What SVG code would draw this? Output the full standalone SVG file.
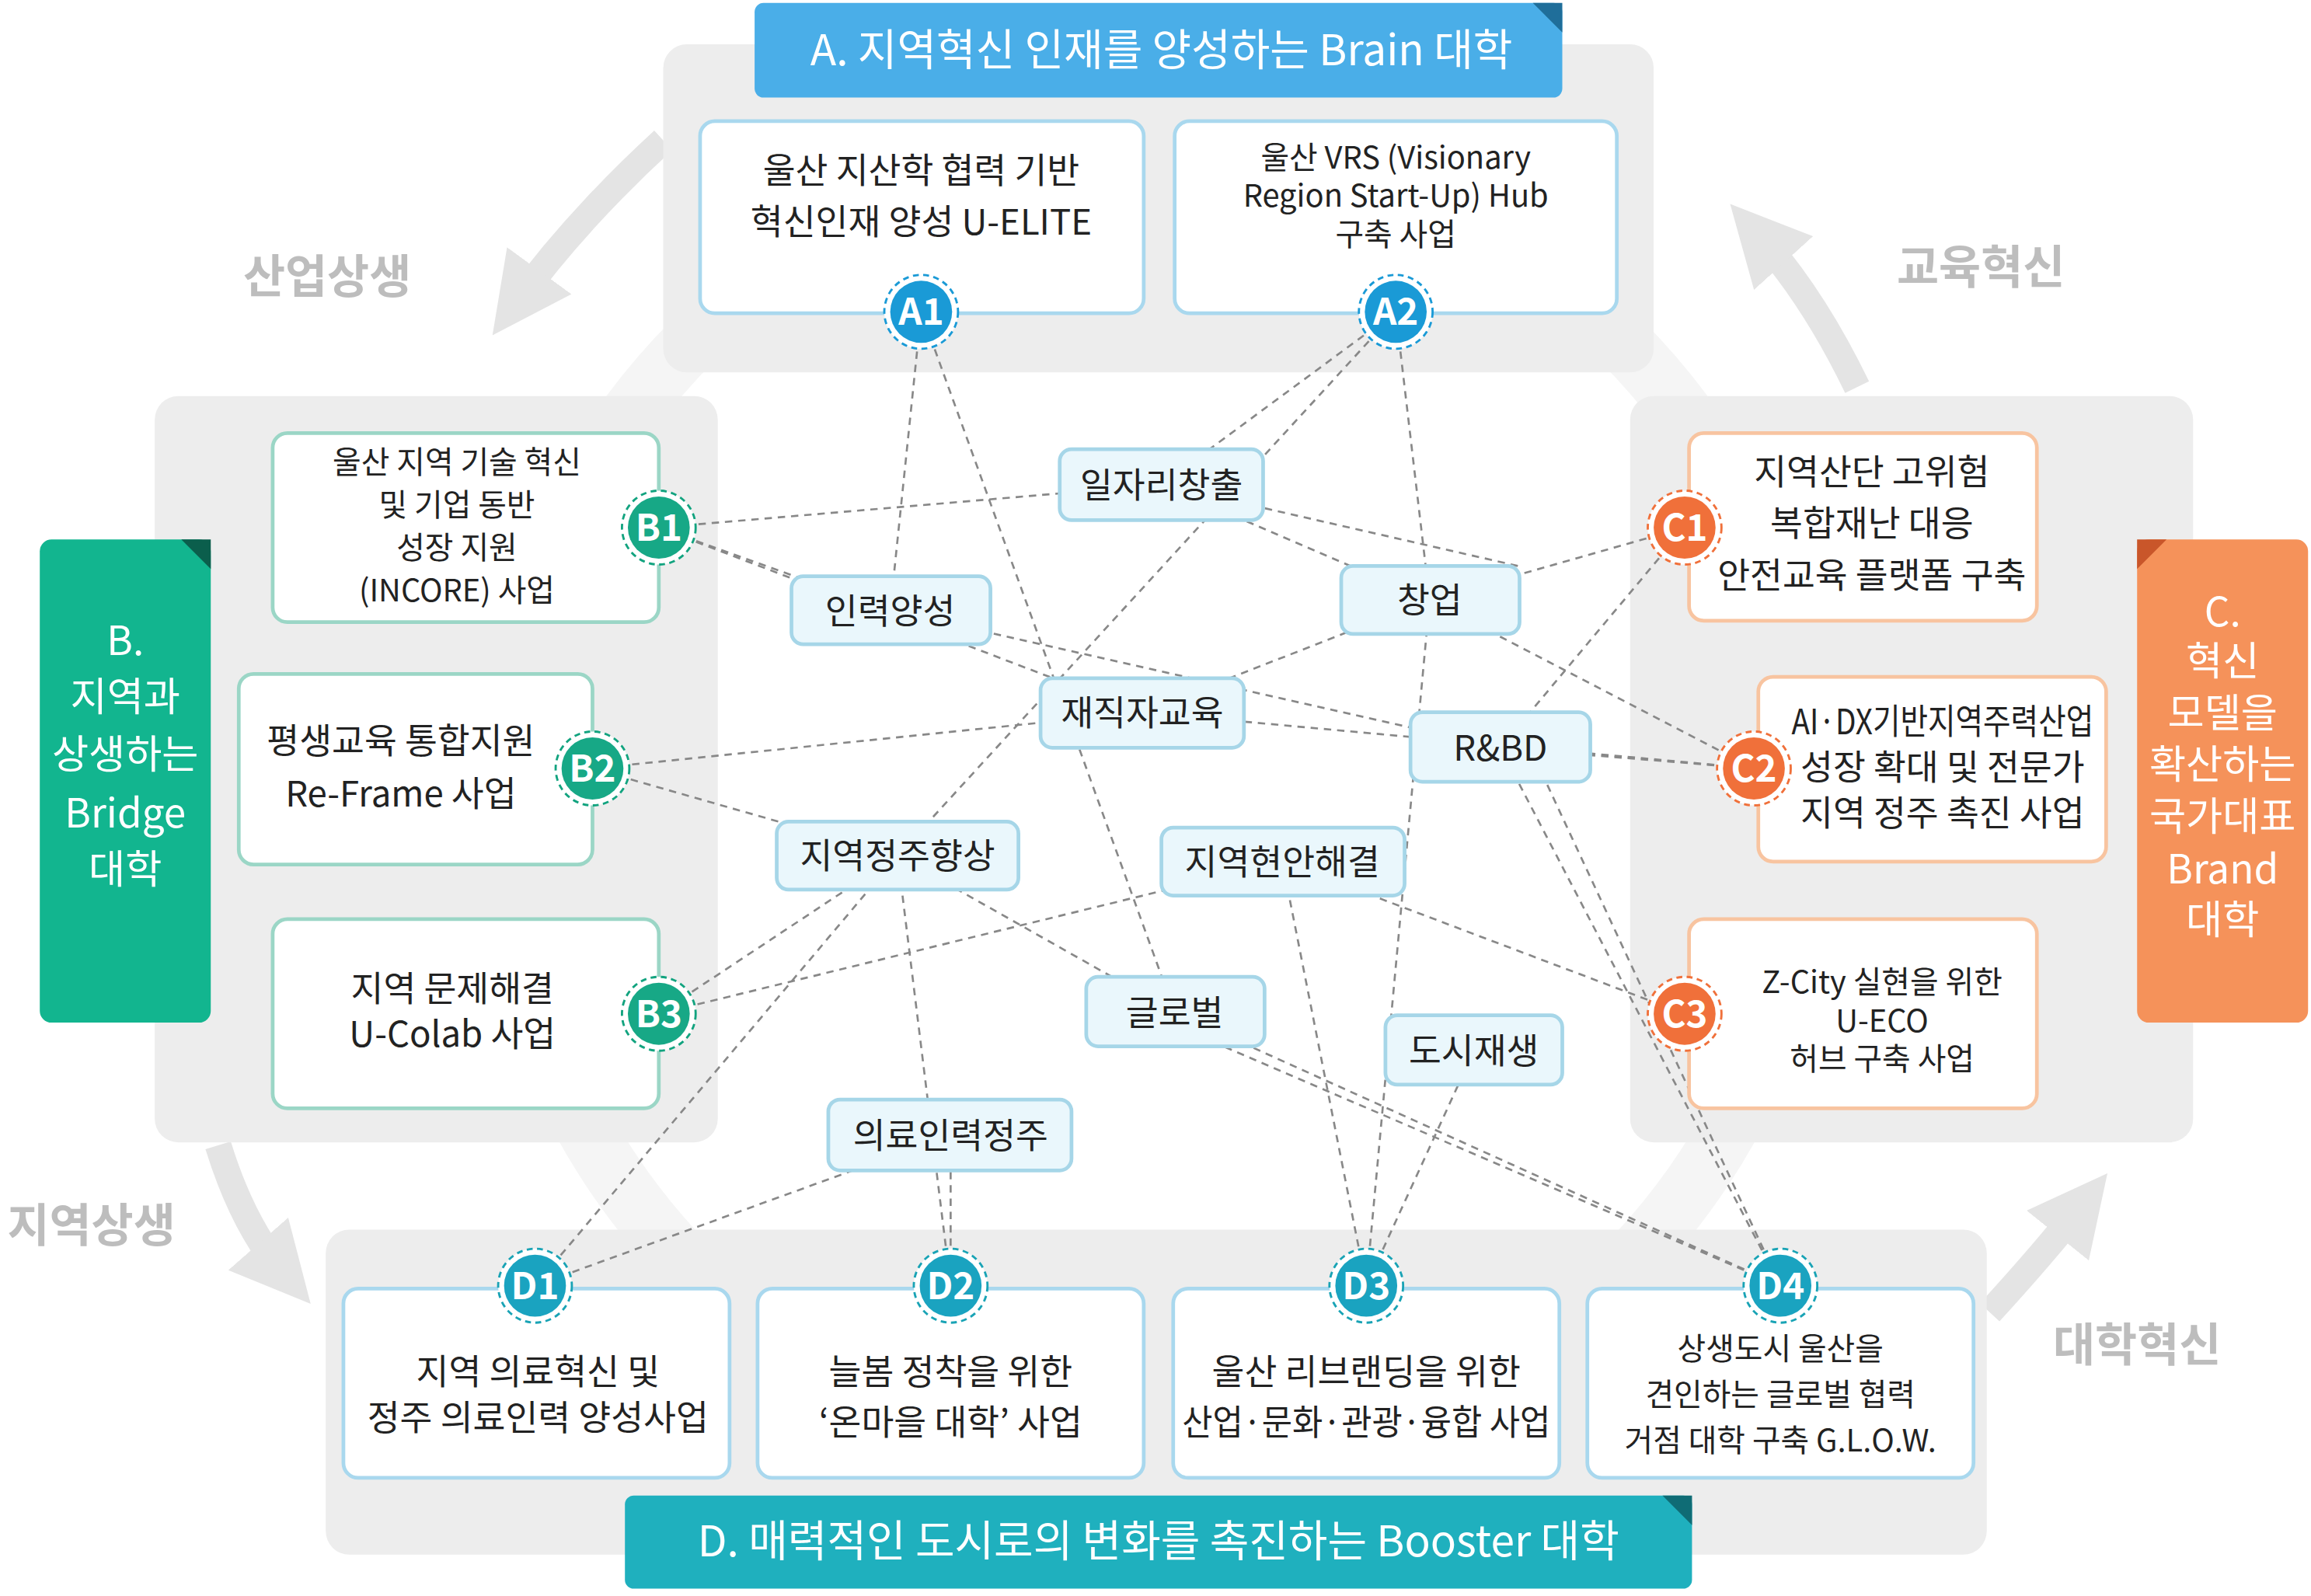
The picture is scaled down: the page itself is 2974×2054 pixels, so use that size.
<svg xmlns="http://www.w3.org/2000/svg" width="2974" height="2054" viewBox="0 0 2974 2054">
<style>
text{font-family:"Noto Sans CJK KR","Noto Sans",sans-serif;text-anchor:middle}
.panel{fill:#ededed}
.nb{fill:#fff;stroke:#a9d8ee;stroke-width:2.5}
.ng{fill:#fff;stroke:#9bd6c6;stroke-width:2.5}
.no{fill:#fff;stroke:#f8c4a0;stroke-width:2.5}
.nt{font-size:24px;fill:#222}
.ns{font-size:21px;fill:#222}
.kw{fill:#eaf7fc;stroke:#a6d6e8;stroke-width:2.5}
.kt{font-size:24px;fill:#222}
.ring{fill:#fff;stroke-width:1.5;stroke-dasharray:4 3}
.bt{font-size:25px;font-weight:bold;fill:#fff}
.cyc{font-size:31px;font-weight:bold;fill:#bdbdbd}
.arr{fill:none;stroke:#e4e4e4;stroke-width:18}
.con line{stroke:#888;stroke-width:1.4;stroke-dasharray:5 4}
</style>
<defs>
<marker id="ah" viewBox="0 0 10 10" refX="5" refY="5" markerWidth="3" markerHeight="3" orient="auto" markerUnits="strokeWidth"><path d="M0,0 L10,5 L0,10 z" fill="#e4e4e4"/></marker>
</defs>
<rect width="2974" height="2054" fill="#fff"/>
<g transform="scale(1.8967,1.9019)">
<circle cx="785" cy="545" r="445" fill="none" stroke="#f5f5f5" stroke-width="40"/>
<g id="cycle">
<path class="arr" d="M450,95 Q390,150 350,205" marker-end="url(#ah)"/>
<path class="arr" d="M1260,262 Q1230,200 1192,158" marker-end="url(#ah)"/>
<path class="arr" d="M148,775 Q165,830 193,862" marker-end="url(#ah)"/>
<path class="arr" d="M1350,888 Q1385,850 1413,815" marker-end="url(#ah)"/>
<text class="cyc" x="222" y="198">산업상생</text>
<text class="cyc" x="1344" y="192">교육혁신</text>
<text class="cyc" x="62" y="840">지역상생</text>
<text class="cyc" x="1450" y="921">대학혁신</text>
</g>
<g id="panels">
<rect class="panel" x="450" y="30" width="672" height="222" rx="16"/>
<rect class="panel" x="105" y="268" width="382" height="505" rx="16"/>
<rect class="panel" x="1106" y="268" width="382" height="505" rx="16"/>
<rect class="panel" x="221" y="832" width="1127" height="220" rx="16"/>
</g>
<g class="con" id="connectors">
<line x1="625" y1="211" x2="604" y2="413"/>
<line x1="625" y1="211" x2="797" y2="685"/>
<line x1="947" y1="211" x2="788" y2="328"/>
<line x1="947" y1="211" x2="609" y2="579"/>
<line x1="947" y1="211" x2="970" y2="406"/>
<line x1="447" y1="357" x2="788" y2="328"/>
<line x1="447" y1="357" x2="604" y2="413"/>
<line x1="447" y1="357" x2="775" y2="482"/>
<line x1="402" y1="520" x2="775" y2="482"/>
<line x1="402" y1="520" x2="609" y2="579"/>
<line x1="447" y1="686" x2="609" y2="579"/>
<line x1="447" y1="686" x2="870" y2="583"/>
<line x1="1143" y1="357" x2="970" y2="406"/>
<line x1="1143" y1="357" x2="1018" y2="506"/>
<line x1="1190" y1="520" x2="1018" y2="506"/>
<line x1="1190" y1="520" x2="970" y2="406"/>
<line x1="1190" y1="520" x2="775" y2="482"/>
<line x1="788" y1="328" x2="1030" y2="383"/>
<line x1="788" y1="328" x2="970" y2="406"/>
<line x1="1143" y1="686" x2="870" y2="583"/>
<line x1="609" y1="579" x2="797" y2="685"/>
<line x1="775" y1="482" x2="970" y2="406"/>
<line x1="604" y1="413" x2="1018" y2="506"/>
<line x1="363" y1="870" x2="609" y2="579"/>
<line x1="363" y1="870" x2="645" y2="768"/>
<line x1="645" y1="870" x2="609" y2="579"/>
<line x1="645" y1="870" x2="645" y2="768"/>
<line x1="927" y1="870" x2="870" y2="583"/>
<line x1="927" y1="870" x2="1000" y2="711"/>
<line x1="927" y1="870" x2="970" y2="406"/>
<line x1="1208" y1="870" x2="797" y2="685"/>
<line x1="1208" y1="870" x2="830" y2="708"/>
<line x1="1208" y1="870" x2="1018" y2="506"/>
<line x1="1208" y1="870" x2="1040" y2="510"/>
</g>
<g id="titleA">
<rect x="512" y="2" width="548" height="64" rx="6" fill="#4aaee8"/>
<path d="M1040,2 L1060,2 L1060,22 z" fill="#1f6e9a"/>
<text x="788" y="44" font-size="29" fill="#fff">A. 지역혁신 인재를 양성하는 Brain 대학</text>
</g>
<g id="titleD">
<rect x="424" y="1012" width="724" height="63" rx="6" fill="#1fb0be"/>
<path d="M1128,1012 L1148,1012 L1148,1032 z" fill="#0f6c75"/>
<text x="786" y="1053" font-size="29" fill="#fff">D. 매력적인 도시로의 변화를 촉진하는 Booster 대학</text>
</g>
<g id="labelB">
<rect x="27" y="365" width="116" height="327" rx="8" fill="#12b58f"/>
<path d="M123,365 L143,365 L143,385 z" fill="#0b5e4c"/>
<g font-size="27" fill="#fff"><text x="85" y="443">B.</text><text x="85" y="481">지역과</text><text x="85" y="520">상생하는</text><text x="85" y="560">Bridge</text><text x="85" y="598">대학</text></g>
</g>
<g id="labelC">
<rect x="1450" y="365" width="116" height="327" rx="8" fill="#f5925a"/>
<path d="M1450,365 L1470,365 L1450,385 z" fill="#c9562a"/>
<g font-size="27" fill="#fff"><text x="1508" y="424">C.</text><text x="1508" y="457">혁신</text><text x="1508" y="492">모델을</text><text x="1508" y="527">확산하는</text><text x="1508" y="562">국가대표</text><text x="1508" y="598">Brand</text><text x="1508" y="632">대학</text></g>
</g>
<g id="A1"><rect class="nb" x="475" y="82" width="301" height="130" rx="10"/><text class="nt" x="625" y="124">울산 지산학 협력 기반</text><text class="nt" x="625" y="159">혁신인재 양성 U-ELITE</text><circle class="ring" cx="625" cy="211" r="25" stroke="#1a9ad6"/><circle cx="625" cy="211" r="21" fill="#1a9ad6"/><text class="bt" x="625" y="220">A1</text></g>
<g id="A2"><rect class="nb" x="797" y="82" width="300" height="130" rx="10"/><text class="ns" x="947" y="114">울산 VRS (Visionary</text><text class="ns" x="947" y="140">Region Start-Up) Hub</text><text class="ns" x="947" y="166">구축 사업</text><circle class="ring" cx="947" cy="211" r="25" stroke="#1a9ad6"/><circle cx="947" cy="211" r="21" fill="#1a9ad6"/><text class="bt" x="947" y="220">A2</text></g>
<g id="B1"><rect class="ng" x="185" y="293" width="262" height="128" rx="10"/><text class="ns" x="310" y="320">울산 지역 기술 혁신</text><text class="ns" x="310" y="349">및 기업 동반</text><text class="ns" x="310" y="378">성장 지원</text><text class="ns" x="310" y="407">(INCORE) 사업</text><circle class="ring" cx="447" cy="357" r="25" stroke="#12a37f"/><circle cx="447" cy="357" r="21" fill="#17a886"/><text class="bt" x="447" y="366">B1</text></g>
<g id="B2"><rect class="ng" x="162" y="456" width="240" height="129" rx="10"/><text class="nt" x="272" y="510">평생교육 통합지원</text><text class="nt" x="272" y="546">Re-Frame 사업</text><circle class="ring" cx="402" cy="520" r="25" stroke="#12a37f"/><circle cx="402" cy="520" r="21" fill="#17a886"/><text class="bt" x="402" y="529">B2</text></g>
<g id="B3"><rect class="ng" x="185" y="622" width="262" height="128" rx="10"/><text class="nt" x="307" y="678">지역 문제해결</text><text class="nt" x="307" y="708">U-Colab 사업</text><circle class="ring" cx="447" cy="686" r="25" stroke="#12a37f"/><circle cx="447" cy="686" r="21" fill="#17a886"/><text class="bt" x="447" y="695">B3</text></g>
<g id="C1"><rect class="no" x="1146" y="293" width="236" height="127" rx="10"/><text class="nt" x="1270" y="328">지역산단 고위험</text><text class="nt" x="1270" y="363">복합재난 대응</text><text class="nt" x="1270" y="398">안전교육 플랫폼 구축</text><circle class="ring" cx="1143" cy="357" r="25" stroke="#f0703a"/><circle cx="1143" cy="357" r="21" fill="#f0703a"/><text class="bt" x="1143" y="366">C1</text></g>
<g id="C2"><rect class="no" x="1193" y="458" width="236" height="125" rx="10"/><text class="nt" x="1318" y="497" textLength="205" lengthAdjust="spacingAndGlyphs">AI·DX기반지역주력산업</text><text class="nt" x="1318" y="528">성장 확대 및 전문가</text><text class="nt" x="1318" y="559">지역 정주 촉진 사업</text><circle class="ring" cx="1190" cy="520" r="25" stroke="#f0703a"/><circle cx="1190" cy="520" r="21" fill="#f0703a"/><text class="bt" x="1190" y="529">C2</text></g>
<g id="C3"><rect class="no" x="1146" y="622" width="236" height="128" rx="10"/><text class="ns" x="1277" y="672">Z-City 실현을 위한</text><text class="ns" x="1277" y="698">U-ECO</text><text class="ns" x="1277" y="724">허브 구축 사업</text><circle class="ring" cx="1143" cy="686" r="25" stroke="#f0703a"/><circle cx="1143" cy="686" r="21" fill="#f0703a"/><text class="bt" x="1143" y="695">C3</text></g>
<g id="D1"><rect class="nb" x="233" y="872" width="262" height="128" rx="10"/><text class="nt" x="365" y="937">지역 의료혁신 및</text><text class="nt" x="365" y="968">정주 의료인력 양성사업</text><circle class="ring" cx="363" cy="870" r="25" stroke="#19a3b5"/><circle cx="363" cy="870" r="21" fill="#1aa3c0"/><text class="bt" x="363" y="879">D1</text></g>
<g id="D2"><rect class="nb" x="514" y="872" width="262" height="128" rx="10"/><text class="nt" x="645" y="937">늘봄 정착을 위한</text><text class="nt" x="645" y="971">‘온마을 대학’ 사업</text><circle class="ring" cx="645" cy="870" r="25" stroke="#19a3b5"/><circle cx="645" cy="870" r="21" fill="#1aa3c0"/><text class="bt" x="645" y="879">D2</text></g>
<g id="D3"><rect class="nb" x="796" y="872" width="262" height="128" rx="10"/><text class="nt" x="927" y="937">울산 리브랜딩을 위한</text><text class="nt" x="927" y="971" textLength="250" lengthAdjust="spacingAndGlyphs">산업·문화·관광·융합 사업</text><circle class="ring" cx="927" cy="870" r="25" stroke="#19a3b5"/><circle cx="927" cy="870" r="21" fill="#1aa3c0"/><text class="bt" x="927" y="879">D3</text></g>
<g id="D4"><rect class="nb" x="1077" y="872" width="262" height="128" rx="10"/><text class="ns" x="1208" y="920">상생도시 울산을</text><text class="ns" x="1208" y="951">견인하는 글로벌 협력</text><text class="ns" x="1208" y="982">거점 대학 구축 G.L.O.W.</text><circle class="ring" cx="1208" cy="870" r="25" stroke="#19a3b5"/><circle cx="1208" cy="870" r="21" fill="#1aa3c0"/><text class="bt" x="1208" y="879">D4</text></g>
<g id="k1"><rect class="kw" x="719" y="304" width="138" height="48" rx="8"/><text class="kt" x="788" y="337">일자리창출</text></g>
<g id="k2"><rect class="kw" x="537" y="390" width="135" height="46" rx="8"/><text class="kt" x="604" y="422">인력양성</text></g>
<g id="k3"><rect class="kw" x="910" y="383" width="121" height="46" rx="8"/><text class="kt" x="970" y="415">창업</text></g>
<g id="k4"><rect class="kw" x="706" y="459" width="138" height="47" rx="8"/><text class="kt" x="775" y="491">재직자교육</text></g>
<g id="k5"><rect class="kw" x="957" y="482" width="122" height="47" rx="8"/><text class="kt" x="1018" y="515">R&amp;BD</text></g>
<g id="k6"><rect class="kw" x="527" y="556" width="164" height="46" rx="8"/><text class="kt" x="609" y="588">지역정주향상</text></g>
<g id="k7"><rect class="kw" x="788" y="560" width="165" height="46" rx="8"/><text class="kt" x="870" y="592">지역현안해결</text></g>
<g id="k8"><rect class="kw" x="737" y="661" width="121" height="47" rx="8"/><text class="kt" x="797" y="694">글로벌</text></g>
<g id="k9"><rect class="kw" x="940" y="687" width="120" height="47" rx="8"/><text class="kt" x="1000" y="720">도시재생</text></g>
<g id="k10"><rect class="kw" x="562" y="744" width="165" height="48" rx="8"/><text class="kt" x="645" y="777">의료인력정주</text></g>
</g>
</svg>
